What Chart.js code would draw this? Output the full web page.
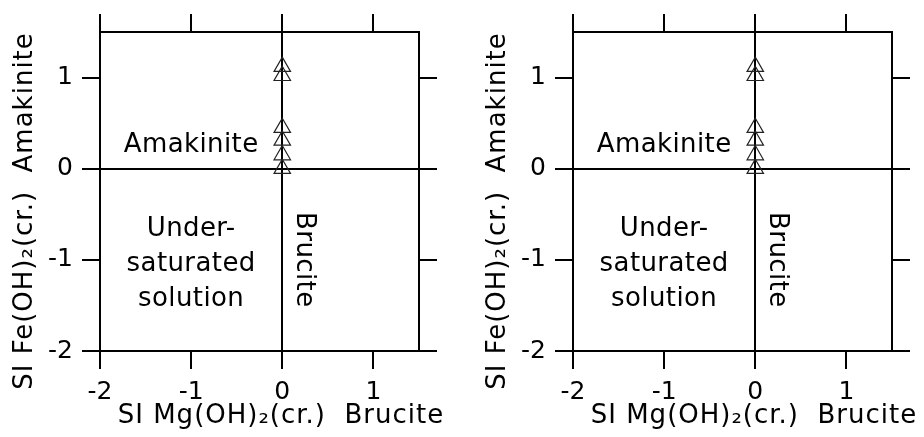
<!DOCTYPE html>
<html><head><meta charset="utf-8">
<script src="https://cdn.jsdelivr.net/npm/chart.js@4"></script>
<style>
html,body{margin:0;padding:0;background:#fff;width:924px;height:437px;overflow:hidden;}
.panel{position:absolute;top:0;width:451px;height:437px;}
#p1{left:0px} #p2{left:473px}
canvas{display:block;}
</style></head><body>
<div class="panel" id="p1"><canvas id="c1" width="451" height="437"></canvas></div>
<div class="panel" id="p2"><canvas id="c2" width="451" height="437"></canvas></div>
<script>
// ---- data ----
const xTickValues = [-2, -1, 0, 1];
const yTickValues = [-2, -1, 0, 1];
const xRange = [-2, 1.5];
const yRange = [-2, 1.5];
const leftSIMg  = [0, 0, 0, 0, 0, 0];
const leftSIFe  = [1.12, 1.02, 0.45, 0.31, 0.15, 0.0];
const rightSIMg = [0, 0, 0, 0, 0, 0];
const rightSIFe = [1.12, 1.02, 0.45, 0.31, 0.15, 0.0];
const xTitle = 'SI Mg(OH)\u2082(cr.)  Brucite';
const yTitle = 'SI Fe(OH)\u2082(cr.)  Amakinite';
const fieldAmakinite = ['Amakinite'];
const fieldUnder = ['Under-', 'saturated', 'solution'];
const fieldBrucite = ['Brucite'];

// ---- styling / layout ----
const FONT = '"DejaVu Sans", sans-serif';
const notes = [
  {lines: fieldAmakinite, x: -1.0, y: 0.18, rot: 0},
  {lines: fieldUnder, x: -1.0, y: -0.736, rot: 0, gap: 35},
  {lines: fieldBrucite, x: 0.165, y: -1.0, rot: Math.PI / 2}
];

function axis(pos, size, main, values, range) {
  const vertical = (pos === 'left' || pos === 'right');
  return {
    type: 'linear', position: pos, min: range[0], max: range[1],
    afterBuildTicks: s => { s.ticks = values.map(v => ({value: v})); },
    afterFit: s => { if (vertical) s.width = size; else s.height = size; },
    grid: {
      color: c => (main && c.tick && c.tick.value === 0) ? '#000' : 'rgba(0,0,0,0)',
      lineWidth: 2, drawOnChartArea: main, drawTicks: true, tickLength: 18,
      tickColor: '#000', tickWidth: 2
    },
    border: {display: true, color: '#000', width: 2},
    ticks: {
      display: main, padding: vertical ? 9 : 8, color: '#000',
      font: {family: FONT, size: 25}, maxRotation: 0, minRotation: 0,
      autoSkip: false, callback: v => String(v)
    },
    title: {display: false}
  };
}

const textPlugin = {
  id: 'texts',
  afterDraw(chart) {
    const {ctx, chartArea: a, scales: {x, y}} = chart;
    ctx.save();
    ctx.fillStyle = '#000';
    ctx.font = '26px ' + FONT;
    ctx.textBaseline = 'alphabetic';
    ctx.textAlign = 'center';
    try { ctx.letterSpacing = '0.4px'; } catch (e) {}
    notes.forEach(n => {
      const px = x.getPixelForValue(n.x), py = y.getPixelForValue(n.y);
      ctx.save();
      ctx.translate(px, py);
      ctx.rotate(n.rot);
      n.lines.forEach((t, i) => ctx.fillText(t, 0, i * (n.gap || 0)));
      ctx.restore();
    });
    try { ctx.letterSpacing = '1px'; } catch (e) {}
    // x axis title
    ctx.fillText(xTitle, a.left + 181, a.bottom + 72);
    // y axis title
    ctx.save();
    ctx.translate(a.left - 68, a.top + 179);
    ctx.rotate(-Math.PI / 2);
    ctx.fillText(yTitle, 0, 0);
    ctx.restore();
    ctx.restore();
  }
};

function makeChart(id, xs, ys) {
  return new Chart(document.getElementById(id), {
    type: 'scatter',
    data: {
      datasets: [{
        data: xs.map((v, i) => ({x: v, y: ys[i]})),
        pointStyle: 'triangle', pointRadius: 9.5, pointHoverRadius: 9.5,
        pointBorderWidth: 1.2, pointBorderColor: '#222',
        pointBackgroundColor: 'rgba(0,0,0,0)', showLine: false,
        xAxisID: 'x', yAxisID: 'y'
      }]
    },
    options: {
      responsive: false, animation: false, devicePixelRatio: 1,
      layout: {padding: 0},
      plugins: {legend: {display: false}, tooltip: {enabled: false}},
      events: [],
      scales: {
        x: axis('bottom', 86, true, xTickValues, xRange),
        x2: axis('top', 32, false, xTickValues, xRange),
        y: axis('left', 100, true, yTickValues, yRange),
        y2: axis('right', 32, false, yTickValues, yRange)
      }
    },
    plugins: [textPlugin]
  });
}

makeChart('c1', leftSIMg, leftSIFe);
makeChart('c2', rightSIMg, rightSIFe);
</script>
</body></html>
